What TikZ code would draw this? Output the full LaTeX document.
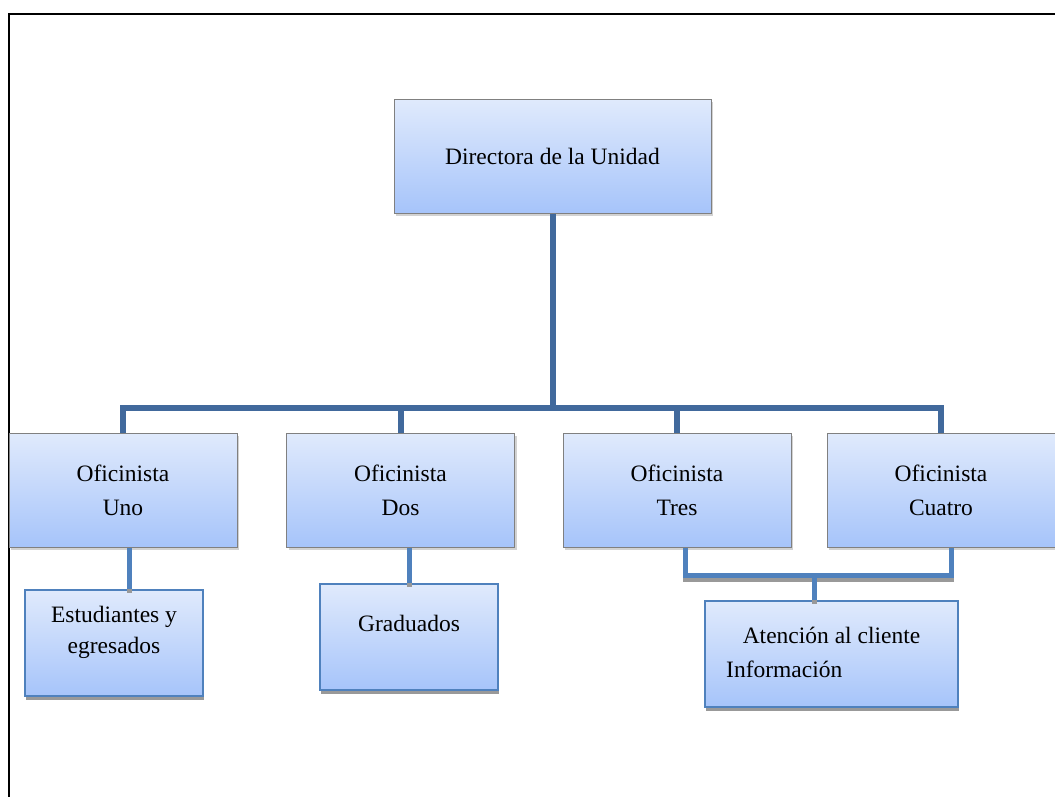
\documentclass[tikz,border=0pt]{standalone}
\usepackage{fontspec}
\setmainfont{Liberation Serif}
\usetikzlibrary{shadows}
\definecolor{linkdark}{RGB}{65,105,156}
\definecolor{linklight}{RGB}{79,129,189}
\definecolor{boxtop}{RGB}{224,234,252}
\definecolor{boxbot}{RGB}{166,196,250}
\definecolor{boxgrey}{RGB}{128,128,128}
\begin{document}
\begin{tikzpicture}[x=1pt,y=-1pt,
  every node/.style={font=\fontsize{23.5}{34}\selectfont},
  topbox/.style={draw=boxgrey, line width=1pt, top color=boxtop, bottom color=boxbot, inner sep=0pt, align=center,
    drop shadow={shadow xshift=2pt, shadow yshift=-3pt, opacity=0.35}},
  subbox/.style={draw=linklight, line width=1.8pt, top color=boxtop, bottom color=boxbot, inner sep=0pt,
    general shadow={fill=black!40, shadow xshift=1pt, shadow yshift=-4pt}},
  conn/.style={draw=linkdark, line width=6pt},
  lconn/.style={draw=linklight, line width=5pt, preaction={draw=black!40, line width=5pt, transform canvas={yshift=-4pt}}},
  frameline/.style={line width=2.5pt, black},
  lbl/.style={anchor=base, inner sep=0pt}
]
\useasboundingbox (0,0) rectangle (1055,796);
\fill[white] (0,0) rectangle (1055,796);

% frame
\coordinate (fbl) at (9,797);
\coordinate (ftl) at (9,14);
\coordinate (ftr) at (1056,14);
\draw[frameline] (fbl) -- (ftl) -- (ftr);

% top level boxes
\node[topbox, minimum width=317pt, minimum height=114pt] (dir) at (552.5,156) {Directora de la Unidad};
\node[topbox, minimum width=228pt, minimum height=114pt] (uno) at (123,490) {Oficinista\\Uno};
\node[topbox, minimum width=228pt, minimum height=114pt] (dos) at (400.5,490) {Oficinista\\Dos};
\node[topbox, minimum width=228pt, minimum height=114pt] (tres) at (677,490) {Oficinista\\Tres};
\node[topbox, minimum width=228pt, minimum height=114pt] (cuatro) at (941,490) {Oficinista\\Cuatro};

% sub boxes
\node[subbox, minimum width=178pt, minimum height=106pt] (est) at (114,643) {};
\node[subbox, minimum width=178pt, minimum height=106pt] (grad) at (409,637) {};
\node[subbox, minimum width=253pt, minimum height=106pt] (aten) at (831.5,654) {};

\node[lbl] (estA) at (114,622) {Estudiantes y};
\node[lbl] (estB) at (114,653) {egresados};
\node[lbl] (gradA) at (409,631) {Graduados};
\node[lbl] (atenA) at (831.5,643) {Atención al cliente};
\node[lbl, anchor=base west] (atenB) at (726,677) {Información};

% top connectors
\coordinate (bar) at (552,408);
\draw[conn] (dir.south) -- (dir.south |- bar);
\draw[conn] (uno.north) |- (cuatro.north |- bar) -- (cuatro.north);
\draw[conn] (dos.north) -- (dos.north |- bar);
\draw[conn] (tres.north) -- (tres.north |- bar);

% lower connectors
\coordinate (br) at (814,575);
\draw[lconn] ([xshift=6pt]uno.south) -- ([xshift=6pt]uno.south |- est.north);
\draw[lconn] (grad.north |- dos.south) -- (grad.north);
\draw[lconn] ([xshift=8pt]tres.south) |- (br) -| ([xshift=10pt]cuatro.south);
\draw[lconn] (br) -- (br |- aten.north);
\end{tikzpicture}
\end{document}
